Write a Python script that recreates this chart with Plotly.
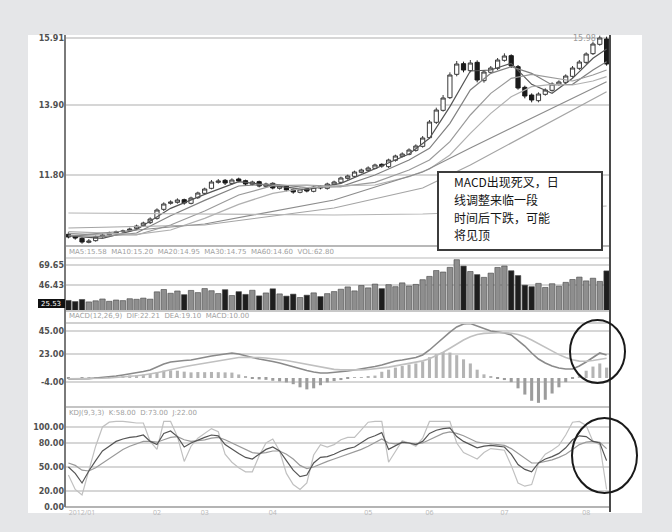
import plotly.graph_objects as go
from plotly.subplots import make_subplots

# ---------------- data ----------------
closes = [9.94, 9.91, 9.79, 9.82, 9.94, 10.00, 10.06, 10.09, 10.12, 10.18,
          10.27, 10.36, 10.48, 10.75, 10.93, 10.99, 11.05, 10.96, 11.11, 11.26,
          11.38, 11.59, 11.62, 11.56, 11.65, 11.62, 11.53, 11.59, 11.47, 11.53,
          11.41, 11.47, 11.35, 11.29, 11.38, 11.32, 11.44, 11.41, 11.53, 11.59,
          11.71, 11.77, 11.89, 11.95, 12.01, 12.10, 12.07, 12.25, 12.37, 12.43,
          12.55, 12.67, 12.91, 13.39, 13.75, 14.11, 14.80, 15.13, 14.95, 15.16,
          14.65, 14.89, 15.01, 15.25, 15.37, 15.07, 14.41, 14.17, 14.05, 14.23,
          14.35, 14.53, 14.59, 14.77, 15.01, 15.19, 15.43, 15.73, 15.91, 15.13]
opens = [10.02, 9.95, 9.90, 9.78, 9.83, 9.95, 10.01, 10.05, 10.10, 10.13,
         10.20, 10.28, 10.37, 10.50, 10.77, 10.95, 10.98, 11.06, 10.95, 11.12,
         11.25, 11.40, 11.58, 11.64, 11.55, 11.68, 11.63, 11.52, 11.60, 11.46,
         11.55, 11.40, 11.48, 11.36, 11.28, 11.40, 11.31, 11.46, 11.40, 11.52,
         11.58, 11.70, 11.76, 11.88, 11.94, 12.00, 12.12, 12.05, 12.24, 12.36,
         12.42, 12.54, 12.66, 12.92, 13.38, 13.74, 14.12, 14.82, 15.14, 14.93,
         15.18, 14.63, 14.88, 15.00, 15.24, 15.38, 15.05, 14.43, 14.20, 14.03,
         14.22, 14.34, 14.52, 14.58, 14.76, 15.00, 15.18, 15.44, 15.72, 15.88]
highs = [10.08, 10.00, 9.93, 9.88, 9.98, 10.04, 10.10, 10.13, 10.16, 10.22,
         10.31, 10.40, 10.53, 10.80, 10.98, 11.04, 11.10, 11.09, 11.15, 11.30,
         11.42, 11.65, 11.68, 11.68, 11.70, 11.72, 11.66, 11.63, 11.63, 11.57,
         11.58, 11.51, 11.50, 11.39, 11.42, 11.43, 11.48, 11.49, 11.57, 11.63,
         11.75, 11.81, 11.93, 11.99, 12.06, 12.14, 12.15, 12.29, 12.41, 12.48,
         12.60, 12.72, 12.97, 13.45, 13.82, 14.20, 14.88, 15.22, 15.20, 15.25,
         15.24, 14.95, 15.07, 15.31, 15.45, 15.42, 15.10, 14.48, 14.25, 14.28,
         14.40, 14.58, 14.64, 14.82, 15.07, 15.25, 15.48, 15.80, 15.98, 15.95]
lows = [9.90, 9.86, 9.74, 9.75, 9.80, 9.92, 9.98, 10.02, 10.07, 10.10,
        10.17, 10.25, 10.33, 10.46, 10.72, 10.91, 10.94, 10.91, 10.92, 11.08,
        11.21, 11.37, 11.54, 11.50, 11.51, 11.58, 11.48, 11.49, 11.43, 11.42,
        11.37, 11.36, 11.31, 11.24, 11.25, 11.28, 11.28, 11.37, 11.36, 11.49,
        11.55, 11.66, 11.73, 11.85, 11.91, 11.97, 12.02, 12.01, 12.20, 12.33,
        12.39, 12.50, 12.62, 12.88, 13.33, 13.70, 14.08, 14.76, 14.88, 14.88,
        14.58, 14.57, 14.83, 14.95, 15.20, 15.01, 14.36, 14.10, 13.98, 13.98,
        14.18, 14.30, 14.48, 14.54, 14.72, 14.95, 15.13, 15.40, 15.68, 15.08]

ma_idx = [0, 5, 10, 15, 20, 25, 30, 35, 40, 45, 50, 53, 56, 59, 62, 65, 68, 71, 74, 77, 79]
ma5 = [9.97, 9.90, 10.16, 10.80, 11.22, 11.60, 11.48, 11.36, 11.55, 11.98, 12.43,
       12.90, 13.85, 14.92, 14.95, 15.15, 14.52, 14.25, 14.70, 15.30, 15.58]
ma10 = [10.00, 9.95, 10.06, 10.58, 11.04, 11.47, 11.53, 11.42, 11.45, 11.80, 12.25,
        12.60, 13.35, 14.35, 14.85, 15.05, 14.85, 14.50, 14.52, 14.95, 15.20]
ma20 = [10.05, 10.00, 10.00, 10.30, 10.72, 11.20, 11.48, 11.50, 11.45, 11.58, 11.95,
        12.25, 12.80, 13.60, 14.25, 14.70, 14.82, 14.72, 14.62, 14.80, 14.95]
ma30 = [10.10, 10.05, 10.02, 10.15, 10.50, 10.92, 11.25, 11.42, 11.48, 11.50, 11.75,
        11.98, 12.40, 13.05, 13.65, 14.15, 14.45, 14.52, 14.50, 14.62, 14.75]
long_idx = [0, 20, 39, 52, 59, 68, 79]
ma60 = [9.97, 10.33, 11.05, 11.89, 12.61, 13.51, 14.60]
ma120 = [10.21, 10.30, 10.81, 11.41, 12.10, 13.10, 14.30]
ma250 = [10.66, 10.63, 10.60, 10.63, 10.69, 10.75, 10.87]

volume = [28.5, 27.2, 29.6, 26.8, 28.1, 30.2, 27.5, 29.0, 28.3, 30.5,
          29.8, 31.2, 30.0, 38.5, 41.2, 36.8, 39.5, 35.2, 40.1, 37.6,
          42.3, 39.8, 36.5, 41.0, 34.2, 38.7, 35.5, 40.3, 33.8, 37.2,
          42.0, 36.1, 33.5, 35.8, 31.9, 34.6, 37.3, 33.0, 36.4, 38.8,
          41.5, 44.2, 39.6, 45.8, 43.1, 47.5, 42.2, 46.8, 44.5, 48.9,
          45.3, 47.1, 52.6, 56.4, 63.2, 61.5, 66.9, 75.8, 68.4, 62.1,
          58.5, 55.3, 60.2, 66.8, 68.5, 63.0, 57.4, 46.2, 44.5, 48.3,
          43.6, 47.9, 45.1, 49.5, 52.8, 55.6, 51.2, 54.3, 50.6, 62.8]

dif = [-1.0, -0.8, -1.2, -0.6, 0.0, 0.5, 1.0, 1.9, 2.9, 3.9,
       4.8, 6.3, 7.7, 10.6, 13.5, 15.4, 16.4, 16.9, 17.4, 18.8,
       19.8, 21.2, 22.2, 23.1, 24.1, 23.1, 21.2, 19.8, 18.3, 17.4,
       15.9, 14.5, 12.5, 10.6, 9.2, 7.2, 5.8, 4.8, 4.8, 5.3,
       5.8, 6.7, 7.7, 8.7, 9.6, 11.1, 12.5, 14.5, 16.4, 17.4,
       18.3, 19.8, 22.2, 27.0, 32.8, 38.6, 44.3, 49.2, 52.1, 52.5,
       50.1, 47.2, 45.3, 44.3, 43.4, 41.5, 36.6, 30.8, 24.1, 18.3,
       14.5, 11.6, 9.6, 8.7, 8.7, 11.6, 15.4, 20.2, 24.1, 22.2]
dea = [-0.8, -0.8, -0.9, -0.8, -0.6, -0.3, 0.0, 0.4, 0.9, 1.5,
       2.1, 2.9, 3.8, 5.0, 6.4, 8.0, 9.4, 10.8, 12.0, 13.1,
       14.2, 15.4, 16.6, 17.7, 18.9, 19.7, 20.0, 20.0, 19.7, 19.2,
       18.6, 17.8, 16.8, 15.6, 14.3, 12.9, 11.5, 10.2, 9.1, 8.3,
       7.8, 7.6, 7.6, 7.8, 8.2, 8.8, 9.5, 10.5, 11.7, 12.8,
       13.9, 15.1, 16.5, 18.6, 21.4, 24.8, 28.7, 32.8, 36.6, 39.8,
       41.9, 43.0, 43.5, 43.7, 43.6, 43.2, 41.9, 39.7, 36.6, 32.9,
       29.2, 25.7, 22.5, 19.7, 17.5, 16.3, 16.1, 16.9, 18.3, 19.1]
macd_hist = [-0.3, 0.0, -0.3, 0.2, 0.6, 0.8, 1.0, 1.5, 2.0, 2.4,
             2.7, 3.4, 3.9, 5.6, 7.1, 7.4, 7.0, 6.1, 5.4, 5.7,
             5.6, 5.8, 5.6, 5.4, 5.2, 3.4, 1.2, -0.2, -1.4, -1.8,
             -2.7, -3.3, -4.3, -6.0, -9.0, -11.0, -10.0, -7.0, -4.3, -3.0,
             -2.0, -0.9, 0.1, 0.9, 1.4, 2.3, 6.0, 8.0, 10.0, 11.5,
             13.0, 14.0, 16.0, 20.0, 23.0, 25.0, 24.5, 22.0, 18.0, 14.0,
             8.0, 3.5, 1.0, -0.5, -2.0, -4.0, -10.0, -16.0, -22.0, -24.0,
             -21.0, -15.0, -9.0, -4.0, -1.0, 3.0, 7.0, 11.0, 14.0, 10.0]

k_line = [50, 42, 30, 45, 58, 70, 76, 82, 85, 87,
          88, 90, 82, 78, 92, 95, 88, 75, 80, 84,
          87, 90, 89, 78, 72, 67, 62, 60, 66, 72,
          75, 70, 58, 46, 38, 40, 55, 62, 63, 66,
          70, 73, 75, 80, 86, 89, 93, 72, 76, 81,
          80, 78, 82, 92, 96, 98, 99, 88, 82, 78,
          74, 76, 77, 76, 75, 66, 53, 47, 44, 55,
          60, 63, 67, 74, 84, 89, 88, 82, 80, 58]
d_line = [55, 52, 46, 45, 49, 55, 61, 67, 72, 76,
          79, 82, 82, 81, 84, 87, 88, 84, 82, 83,
          84, 86, 87, 84, 80, 76, 71, 68, 67, 68,
          70, 70, 66, 60, 52, 48, 50, 54, 57, 60,
          63, 66, 69, 72, 76, 80, 85, 80, 79, 80,
          80, 79, 80, 84, 88, 92, 94, 92, 89, 85,
          81, 80, 79, 78, 77, 73, 67, 60, 55, 55,
          57, 59, 62, 66, 72, 78, 81, 82, 81, 73]
j_line = [40, 22, 15, 45, 76, 100, 106, 107, 107, 106,
          105, 105, 82, 72, 107, 107, 88, 57, 76, 86,
          92, 98, 94, 66, 56, 49, 44, 44, 64, 80,
          85, 70, 42, 28, 22, 30, 65, 78, 75, 78,
          84, 87, 87, 96, 106, 107, 107, 56, 70, 83,
          80, 76, 86, 107, 107, 107, 107, 80, 68, 64,
          60, 68, 73, 72, 71, 52, 30, 26, 28, 55,
          66, 71, 77, 90, 106, 107, 102, 82, 78, 22]

price_ticks = [11.80, 13.90, 15.91]
vol_ticks = [46.43, 69.65]
macd_ticks = [-4.0, 23.0, 45.0]
kdj_ticks = [0, 20, 50, 80, 100]
x_tick_pos = [2, 13, 20, 30, 44, 53, 64, 76]
x_tick_text = ["2012/01", "02", "03", "04", "05", "06", "07", "08"]

note_lines = ["MACD出现死叉，日", "线调整来临一段", "时间后下跌，可能", "将见顶"]

# ---------------- figure ----------------
idx = list(range(len(closes)))
W, H = 672, 532
L, R, T, B = 65, 62, 35, 25
PW, PH = W - L - R, H - T - B


def px_x(x):
    return (x - L) / PW


def px_y(y):
    return (H - B - y) / PH


fig = make_subplots(rows=4, cols=1, shared_xaxes=True, vertical_spacing=0.0)

fig.add_trace(go.Candlestick(
    x=idx, open=opens, high=highs, low=lows, close=closes,
    increasing=dict(line=dict(color='#3a3a3a', width=1), fillcolor='#ffffff'),
    decreasing=dict(line=dict(color='#1a1a1a', width=1), fillcolor='#1a1a1a'),
    whiskerwidth=0, hoverinfo='skip', showlegend=False), row=1, col=1)

for xs, ys, col in [(ma_idx, ma5, '#555555'), (ma_idx, ma10, '#808080'),
                    (ma_idx, ma20, '#9a9a9a'), (ma_idx, ma30, '#b0b0b0'),
                    (long_idx, ma60, '#8c8c8c'), (long_idx, ma120, '#a5a5a5'),
                    (long_idx, ma250, '#b5b5b5')]:
    fig.add_trace(go.Scatter(x=xs, y=ys, mode='lines', line=dict(color=col, width=1.2),
                             hoverinfo='skip', showlegend=False), row=1, col=1)

vol_colors = ['#8e8e8e' if c >= o else '#1e1e1e' for c, o in zip(closes, opens)]
fig.add_trace(go.Bar(x=idx, y=volume, marker=dict(color=vol_colors, line=dict(color='#444', width=0.6)),
                     hoverinfo='skip', showlegend=False), row=2, col=1)

hist_colors = ['#b4b4b4' if v >= 0 else '#9c9c9c' for v in macd_hist]
fig.add_trace(go.Bar(x=idx, y=macd_hist, marker=dict(color=hist_colors, line=dict(width=0)),
                     width=0.45, hoverinfo='skip', showlegend=False), row=3, col=1)
fig.add_trace(go.Scatter(x=idx, y=dif, mode='lines', line=dict(color='#8a8a8a', width=1.6),
                         hoverinfo='skip', showlegend=False), row=3, col=1)
fig.add_trace(go.Scatter(x=idx, y=dea, mode='lines', line=dict(color='#c0c0c0', width=1.6),
                         hoverinfo='skip', showlegend=False), row=3, col=1)

for ys, col in [(j_line, '#c0c0c0'), (d_line, '#9a9a9a'), (k_line, '#555555')]:
    fig.add_trace(go.Scatter(x=idx, y=ys, mode='lines', line=dict(color=col, width=1.2),
                             hoverinfo='skip', showlegend=False), row=4, col=1)

tickfont = dict(family='DejaVu Sans', size=8, color='#505050', weight='bold')
common_y = dict(showgrid=True, gridcolor='#d6d6d6', gridwidth=2, zeroline=False,
                ticks='', tickfont=tickfont, showline=False, fixedrange=True)

fig.update_layout(
    width=W, height=H, margin=dict(l=L, r=R, t=T, b=B),
    paper_bgcolor='#e5e6e8', plot_bgcolor='#ffffff', showlegend=False,
    bargap=0.2, boxgap=0.12,
    yaxis=dict(domain=[px_y(246), 1.0], range=[9.67, 16.0], tickvals=price_ticks,
               ticktext=[f"{v:.2f}" for v in price_ticks], **common_y),
    yaxis2=dict(domain=[px_y(311), px_y(257)], range=[16.24, 78.94], tickvals=vol_ticks,
                ticktext=[f"{v:.2f}" for v in vol_ticks], **common_y),
    yaxis3=dict(domain=[px_y(407), px_y(322)], range=[-28.0, 54.0], tickvals=macd_ticks,
                ticktext=[f"{v:.2f}" for v in macd_ticks], **common_y),
    yaxis4=dict(domain=[0.0, px_y(420)], range=[0, 108.75], tickvals=kdj_ticks,
                ticktext=[f"{v:.2f}" for v in kdj_ticks], **common_y),
)
fig.update_xaxes(range=[-0.5, len(idx) - 0.5], showgrid=False, zeroline=False,
                 showticklabels=False, rangeslider_visible=False, ticks='', fixedrange=True)
fig.update_layout(xaxis4=dict(showticklabels=True, tickvals=x_tick_pos, ticktext=x_tick_text,
                              tickfont=dict(size=7, color='#b8b8b8'), ticklabelstandoff=0))

shapes = []
# white sheet
shapes.append(dict(type='rect', xref='paper', yref='paper', x0=px_x(28), x1=px_x(642),
                   y0=px_y(513), y1=px_y(35), fillcolor='#ffffff', line=dict(width=0), layer='below'))
# panel separators
for yy, col in [(246, '#b8b8b8'), (258, '#dcdcdc'), (311, '#c8c8c8'), (323, '#d0d0d0'),
                (407, '#c4c4c4'), (507, '#b4b4b4')]:
    shapes.append(dict(type='line', xref='paper', yref='paper', x0=0, x1=1, y0=px_y(yy), y1=px_y(yy),
                       line=dict(color=col, width=2)))
# axis verticals
shapes.append(dict(type='line', xref='paper', yref='paper', x0=0, x1=0, y0=0, y1=1,
                   line=dict(color='#7a7a7a', width=2)))
shapes.append(dict(type='line', xref='paper', yref='paper', x0=px_x(610), x1=px_x(610), y0=px_y(512), y1=1,
                   line=dict(color='#4a4a4a', width=2)))
# highlighted volume label
shapes.append(dict(type='rect', xref='paper', yref='paper', x0=px_x(38), x1=px_x(65),
                   y0=px_y(308), y1=px_y(299), fillcolor='#111111', line=dict(width=0)))
# note box
shapes.append(dict(type='rect', xref='paper', yref='paper', x0=px_x(438), x1=px_x(602),
                   y0=px_y(250), y1=px_y(172), fillcolor='#ffffff', line=dict(color='#3c3c3c', width=2)))
# circles
shapes.append(dict(type='circle', xref='paper', yref='paper', x0=px_x(570), x1=px_x(625),
                   y0=px_y(383), y1=px_y(320), line=dict(color='#1a1a1a', width=2)))
shapes.append(dict(type='circle', xref='paper', yref='paper', x0=px_x(572), x1=px_x(637),
                   y0=px_y(493), y1=px_y(418), line=dict(color='#1a1a1a', width=2)))
fig.update_layout(shapes=shapes)

ann = []
for k, line in enumerate(note_lines):
    ann.append(dict(xref='paper', yref='paper', x=px_x(452), y=px_y(182 + 17.5 * k),
                    xanchor='left', yanchor='middle', align='left', showarrow=False, text=line,
                    font=dict(family='Noto Sans CJK SC', size=12, color='#151515')))
ann.append(dict(xref='paper', yref='paper', x=px_x(51), y=px_y(303.5), xanchor='center', yanchor='middle',
                showarrow=False, text='25.53', font=dict(family='DejaVu Sans', size=7, color='#ffffff')))
hdr = dict(family='DejaVu Sans', size=7, color='#a0a0a0')
ann.append(dict(xref='paper', yref='paper', x=px_x(67), y=px_y(252), xanchor='left', yanchor='middle',
                showarrow=False, text='MA5:15.58  MA10:15.20  MA20:14.95  MA30:14.75  MA60:14.60  VOL:62.80',
                font=hdr))
ann.append(dict(xref='paper', yref='paper', x=px_x(67), y=px_y(316), xanchor='left', yanchor='middle',
                showarrow=False, text='MACD(12,26,9)  DIF:22.21  DEA:19.10  MACD:10.00', font=hdr))
ann.append(dict(xref='paper', yref='paper', x=px_x(67), y=px_y(413), xanchor='left', yanchor='middle',
                showarrow=False, text='KDJ(9,3,3)  K:58.00  D:73.00  J:22.00', font=hdr))
ann.append(dict(xref='paper', yref='paper', x=px_x(598), y=px_y(39), xanchor='right', yanchor='middle',
                showarrow=False, text='15.98', font=dict(family='DejaVu Sans', size=8, color='#9a9a9a')))
fig.update_layout(annotations=ann)

fig.write_html("out.html", config={'displayModeBar': False},
               post_script="document.body.style.margin='0';")
